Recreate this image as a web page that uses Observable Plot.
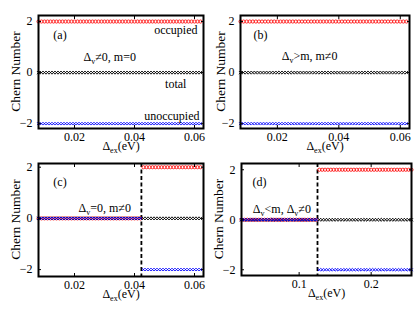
<!DOCTYPE html>
<html><head><meta charset="utf-8">
<script src="https://cdn.jsdelivr.net/npm/d3@7"></script>
<script src="https://cdn.jsdelivr.net/npm/@observablehq/plot@0.6"></script>
<style>
body{margin:0;background:#fff}
#wrap{position:relative;width:415px;height:321px;overflow:hidden;background:#fff}
.p{position:absolute}
.p, .p text, .p tspan{font-family:"Liberation Serif","Times New Roman",Times,serif !important}
</style></head><body><div id="wrap"></div>
<script>
// ---- data ----
const gridABC = [0.008,0.009,0.010,0.011,0.012,0.013,0.014,0.015,0.016,0.017,0.018,0.019,0.020,0.021,0.022,0.023,0.024,0.025,0.026,0.027,0.028,0.029,0.030,0.031,0.032,0.033,0.034,0.035,0.036,0.037,0.038,0.039,0.040,0.041,0.042,0.043,0.044,0.045,0.046,0.047,0.048,0.049,0.050,0.051,0.052,0.053,0.054,0.055,0.056,0.057,0.058,0.059,0.060,0.061,0.062];
const gridD = [0.020,0.024,0.028,0.032,0.036,0.040,0.044,0.048,0.052,0.056,0.060,0.064,0.068,0.072,0.076,0.080,0.084,0.088,0.092,0.096,0.100,0.104,0.108,0.112,0.116,0.120,0.124,0.128,0.132,0.136,0.140,0.144,0.148,0.152,0.156,0.160,0.164,0.168,0.172,0.176,0.180,0.184,0.188,0.192,0.196,0.200,0.204,0.208,0.212,0.216,0.220,0.224,0.228,0.232,0.236,0.240,0.244,0.248,0.252,0.256];
const panelLabels = ["(a)", "(b)", "(c)", "(d)"];
const conditionLabels = ["Δ_{v}≠0, m=0", "Δ_{v}>m, m≠0", "Δ_{v}=0, m≠0", "Δ_{v}<m, Δ_{v}≠0"];
const seriesLabels = ["occupied", "total", "unoccupied"];
const occupiedBefore = [2, 2, 0, 0];
const occupiedAfter = [2, 2, 2, 2];
const unoccupiedBefore = [-2, -2, 0, 0];
const unoccupiedAfter = [-2, -2, -2, -2];
const totalValues = [0, 0, 0, 0];
const transitions = [null, null, 0.0423, 0.1255];
const xTicksABC = [0.02, 0.04, 0.06];
const xTicksD = [0.1, 0.2];
const yTicks = [-2, 0, 2];
const xLabel = "Δ_{ex}(eV)";
const yLabel = "Chern Number";

// ---- layout ----
const layout = [
  {left: 0, top: 0, width: 205, height: 160, ml: 38, mr: 2, mt: 15, mb: 32, xd: [0.008, 0.063], yd: [-2.19, 2.236], grid: gridABC, xt: xTicksABC, yl: 23,
   ann: [{x: 0.01517, y: 1.45}, {x: 0.023, y: 0.585}]},
  {left: 205, top: 0, width: 210, height: 160, ml: 35, mr: 6, mt: 15, mb: 32, xd: [0.008, 0.063], yd: [-2.19, 2.236], grid: gridABC, xt: xTicksABC, yl: 20,
   ann: [{x: 0.01454, y: 1.45}, {x: 0.0214, y: 0.66}]},
  {left: 0, top: 160, width: 205, height: 161, ml: 38, mr: 2, mt: 3, mb: 45, xd: [0.008, 0.063], yd: [-2.27, 2.145], grid: gridABC, xt: xTicksABC, yl: 23,
   ann: [{x: 0.01517, y: 1.40}, {x: 0.02133, y: 0.385}]},
  {left: 205, top: 160, width: 210, height: 161, ml: 36, mr: 4, mt: 3, mb: 46, xd: [0.02, 0.256], yd: [-2.23, 2.25], grid: gridD, xt: xTicksD, yl: 23,
   ann: [{x: 0.045, y: 1.52}, {x: 0.0357, y: 0.44}]}
];

const FONT = '"Liberation Serif", "Times New Roman", serif';
const ns = "http://www.w3.org/2000/svg";
const wrap = document.getElementById("wrap");
const fmtY = d => d < 0 ? "\u2212" + Math.abs(d) : String(d);

function addSubscripts(svg) {
  svg.querySelectorAll("text, tspan").forEach(el => {
    if (el.children.length) return;
    const s = el.textContent;
    if (!s.includes("_{")) return;
    el.textContent = "";
    const re = /_\{([^}]*)\}/g;
    let last = 0, m, shifted = false;
    const plain = (str) => {
      const t = document.createElementNS(ns, "tspan");
      if (shifted) { t.setAttribute("dy", "-3"); shifted = false; }
      t.textContent = str; el.appendChild(t);
    };
    while ((m = re.exec(s))) {
      if (m.index > last) plain(s.slice(last, m.index));
      const t = document.createElementNS(ns, "tspan");
      t.setAttribute("dy", "3"); t.setAttribute("font-size", "8");
      t.textContent = m[1]; el.appendChild(t); shifted = true;
      last = re.lastIndex;
    }
    if (last < s.length) plain(s.slice(last));
  });
}

layout.forEach((L, i) => {
  const t = transitions[i];
  const after = x => t == null || x >= t;
  const occ = L.grid.map(x => ({x, y: after(x) ? occupiedAfter[i] : occupiedBefore[i]}));
  const unocc = L.grid.map(x => ({x, y: after(x) ? unoccupiedAfter[i] : unoccupiedBefore[i]}));
  const tot = L.grid.map(x => ({x, y: totalValues[i]}));
  const marks = [];
  if (t != null) marks.push(Plot.ruleX([t], {stroke: "black", strokeWidth: 1.8, strokeDasharray: "4,2.5"}));
  marks.push(
    Plot.dot(occ, {x: "x", y: "y", r: 1.6, symbol: "circle", stroke: "#ff0000", strokeWidth: 0.8, fill: "none"}),
    Plot.dot(tot, {x: "x", y: "y", r: 1.6, symbol: "times", stroke: "#000", strokeWidth: 0.9}),
    Plot.dot(unocc, {x: "x", y: "y", r: 1.4, symbol: "times", stroke: "#0000ff", strokeWidth: 0.9}),
    Plot.frame({stroke: "black", strokeWidth: 2}),
    Plot.axisX({ticks: L.xt, tickSize: -3, tickPadding: 7, fontSize: 12, label: null, tickFormat: d => String(d)}),
    Plot.axisX({anchor: "top", ticks: L.xt, tickSize: -3, label: null, tickFormat: () => ""}),
    Plot.axisY({ticks: yTicks, tickSize: -3, tickPadding: 9, fontSize: 12, label: null, tickFormat: fmtY}),
    Plot.axisY({anchor: "right", ticks: yTicks, tickSize: -3, label: null, tickFormat: () => ""}),
    Plot.text([xLabel], {text: d => d, frameAnchor: "bottom", dy: 18, lineAnchor: "middle", fontSize: 12}),
    Plot.text([panelLabels[i]], {text: d => d, x: () => L.ann[0].x, y: () => L.ann[0].y, fontSize: 12, lineAnchor: "middle"}),
    Plot.text([conditionLabels[i]], {text: d => d, x: () => L.ann[1].x, y: () => L.ann[1].y, fontSize: 12, textAnchor: "start", lineAnchor: "middle"})
  );
  if (i === 0) {
    marks.push(
      Plot.text([seriesLabels[0]], {text: d => d, x: () => 0.061, y: () => 1.65, textAnchor: "end", lineAnchor: "middle", fontSize: 12}),
      Plot.text([seriesLabels[1]], {text: d => d, x: () => 0.0573, y: () => -0.44, textAnchor: "end", lineAnchor: "middle", fontSize: 12}),
      Plot.text([seriesLabels[2]], {text: d => d, x: () => 0.06167, y: () => -1.70, textAnchor: "end", lineAnchor: "middle", fontSize: 12})
    );
  }
  const svg = Plot.plot({
    width: L.width, height: L.height,
    marginLeft: L.ml, marginRight: L.mr, marginTop: L.mt, marginBottom: L.mb,
    x: {domain: L.xd},
    y: {domain: L.yd},
    style: {fontFamily: FONT, fontSize: "12px", color: "black", background: "transparent", overflow: "visible"},
    marks
  });
  addSubscripts(svg);
  // y-axis title
  const yt = document.createElementNS(ns, "text");
  const cy = L.mt + (L.height - L.mt - L.mb) / 2;
  yt.setAttribute("transform", `translate(${L.ml - L.yl},${cy}) rotate(-90)`);
  yt.setAttribute("text-anchor", "middle");
  yt.setAttribute("dominant-baseline", "central");
  yt.setAttribute("font-size", "13.5");
  yt.setAttribute("fill", "black");
  yt.textContent = yLabel;
  svg.appendChild(yt);
  svg.classList.add("p");
  svg.style.left = L.left + "px";
  svg.style.top = L.top + "px";
  wrap.appendChild(svg);
});
</script></body></html>
